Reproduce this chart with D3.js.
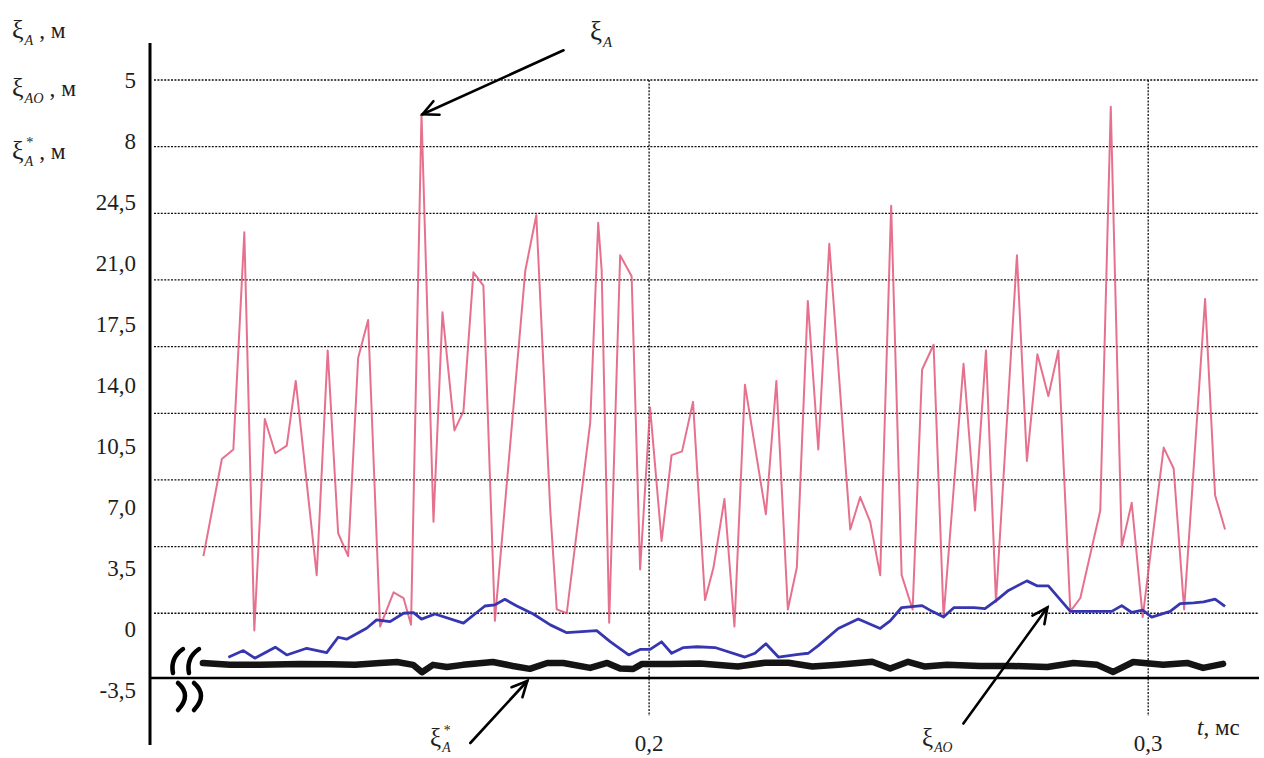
<!DOCTYPE html>
<html>
<head>
<meta charset="utf-8">
<script src="https://cdn.jsdelivr.net/npm/d3@7"></script>
<style>
  body { margin: 0; background: #fff; }
  text { font-family: "Liberation Serif", "Times New Roman", serif; fill: #1e1e1e; }
</style>
</head>
<body>
<div id="wrapper"></div>
<script>
// ξA, м  (red)
const redT = [0.1107, 0.1144, 0.1167, 0.1189, 0.1209, 0.1230, 0.1251, 0.1274, 0.1292, 0.1334,
  0.1356, 0.1377, 0.1397, 0.1417, 0.1437, 0.1461, 0.1488, 0.1508, 0.1523, 0.1544,
  0.1568, 0.1586, 0.1610, 0.1628, 0.1648, 0.1668, 0.1691, 0.1752, 0.1774, 0.1802,
  0.1815, 0.1835, 0.1882, 0.1898, 0.1905, 0.1920, 0.1942, 0.1965, 0.1982, 0.2002,
  0.2025, 0.2045, 0.2066, 0.2088, 0.2112, 0.2129, 0.2151, 0.2171, 0.2192, 0.2234,
  0.2255, 0.2278, 0.2296, 0.2318, 0.2339, 0.2361, 0.2403, 0.2423, 0.2443, 0.2463,
  0.2485, 0.2506, 0.2528, 0.2547, 0.2570, 0.2590, 0.2630, 0.2653, 0.2675, 0.2695,
  0.2737, 0.2757, 0.2778, 0.2800, 0.2820, 0.2844, 0.2864, 0.2904, 0.2925, 0.2947,
  0.2967, 0.2989, 0.3031, 0.3051, 0.3072, 0.3114, 0.3134, 0.3154];
const redV = [3.0, 8.1, 8.6, 20.0, -0.9, 10.2, 8.4, 8.8, 12.2, 2.0,
  13.8, 4.2, 3.0, 13.4, 15.4, -0.7, 1.1, 0.8, -0.6, 26.2,
  4.8, 15.8, 9.6, 10.6, 17.9, 17.2, -0.4, 18.0, 20.9, 5.4,
  0.2, 0.0, 10.0, 20.5, 18.0, -0.5, 18.8, 17.7, 2.3, 10.8,
  3.8, 8.3, 8.5, 11.1, 0.7, 2.4, 6.0, -0.7, 12.0, 5.2,
  12.2, 0.2, 2.4, 16.4, 8.6, 19.4, 4.4, 6.1, 4.8, 2.0,
  21.4, 2.0, 0.2, 12.8, 14.1, -0.2, 13.1, 5.4, 13.8, 0.6,
  18.8, 8.0, 13.6, 11.4, 13.8, 0.1, 0.8, 5.4, 26.6, 3.5,
  5.8, -0.2, 8.7, 7.6, 0.2, 16.5, 6.2, 4.4];

// ξAO, м  (blue)
const blueT = [0.1157, 0.1187, 0.1210, 0.1251, 0.1274, 0.1314, 0.1354, 0.1377, 0.1394, 0.1434,
  0.1454, 0.1481, 0.1508, 0.1528, 0.1544, 0.1571, 0.1628, 0.1671, 0.1691, 0.1711,
  0.1735, 0.1768, 0.1802, 0.1835, 0.1895, 0.1922, 0.1959, 0.1982, 0.2002, 0.2025,
  0.2045, 0.2069, 0.2096, 0.2132, 0.2192, 0.2212, 0.2234, 0.2259, 0.2299, 0.2319,
  0.2339, 0.2379, 0.2419, 0.2463, 0.2483, 0.2506, 0.2547, 0.2567, 0.2590, 0.2611,
  0.2651, 0.2673, 0.2697, 0.2720, 0.2757, 0.2777, 0.2800, 0.2844, 0.2878, 0.2927,
  0.2947, 0.2967, 0.2989, 0.3007, 0.3044, 0.3064, 0.3091, 0.3111, 0.3134, 0.3154];
const blueV = [-2.31, -1.96, -2.36, -1.78, -2.19, -1.84, -2.07, -1.26, -1.36, -0.79,
  -0.35, -0.44, 0.0, 0.03, -0.31, -0.04, -0.52, 0.38, 0.44, 0.73,
  0.38, -0.04, -0.61, -1.02, -0.91, -1.49, -2.19, -1.9, -1.9, -1.5,
  -2.1, -1.8, -1.76, -1.8, -2.3, -2.1, -1.6, -2.3, -2.16, -2.1,
  -1.7, -0.8, -0.3, -0.8, -0.4, 0.3, 0.4, 0.1, -0.2, 0.3,
  0.3, 0.24, 0.7, 1.2, 1.7, 1.44, 1.44, 0.1, 0.1, 0.1,
  0.4, 0.04, 0.16, -0.2, 0.1, 0.5, 0.54, 0.6, 0.74, 0.36];

// ξ*A, м  (black)
const starT = [0.1106, 0.1160, 0.1220, 0.1301, 0.1361, 0.1411, 0.1461, 0.1495, 0.1527, 0.1545,
  0.1567, 0.1595, 0.1627, 0.1687, 0.1727, 0.1761, 0.1796, 0.1828, 0.1882, 0.1916,
  0.1942, 0.1968, 0.1986, 0.2042, 0.2102, 0.2178, 0.2232, 0.2279, 0.2327, 0.2379,
  0.2447, 0.2483, 0.2519, 0.2553, 0.2597, 0.2663, 0.2729, 0.2798, 0.2850, 0.2898,
  0.2930, 0.2970, 0.3030, 0.3078, 0.3110, 0.3150];
const starV = [-2.61, -2.70, -2.71, -2.66, -2.68, -2.71, -2.61, -2.56, -2.71, -3.10,
  -2.71, -2.82, -2.71, -2.56, -2.77, -2.92, -2.61, -2.61, -2.87, -2.61,
  -2.90, -2.93, -2.66, -2.66, -2.64, -2.80, -2.60, -2.60, -2.80, -2.70,
  -2.55, -2.90, -2.55, -2.80, -2.71, -2.77, -2.77, -2.82, -2.61, -2.71,
  -3.08, -2.56, -2.71, -2.61, -2.87, -2.66];

const yTickLabels = ["5", "8", "24,5", "21,0", "17,5", "14,0", "10,5", "7,0", "3,5", "0", "-3,5"];
const yGridValues = [0, 3.5, 7, 10.5, 14, 17.5, 21, 24.5, 28];
const xTickValues = [0.2, 0.3];
const xTickLabels = ["0,2", "0,3"];

function drawChart() {
    const dimension = {
        width: 1264,
        height: 758,
        margin: { top: 80, left: 150, bottom: 80, right: 5 }
    };
    const x0 = dimension.margin.left;
    const x1 = dimension.width - dimension.margin.right;
    const yBottom = dimension.height - dimension.margin.bottom; // 678

    const svg = d3.select("#wrapper").append("svg")
        .attr("width", dimension.width)
        .attr("height", dimension.height);

    const xScaler = d3.scaleLinear().domain([0.1, 0.3222]).range([x0, x1]);
    const yScaler = d3.scaleLinear().domain([-3.4, 28]).range([yBottom, dimension.margin.top]);
    // labels in the source sit on their own spacing, not on the grid
    const labelScaler = d3.scalePoint().domain(yTickLabels).range([80, 690]);

    // dotted grid
    svg.append("g").selectAll("line").data(yGridValues).join("line")
        .attr("x1", x0 + 4).attr("x2", x1)
        .attr("y1", d => yScaler(d)).attr("y2", d => yScaler(d))
        .attr("stroke", "#111").attr("stroke-width", 1.3)
        .attr("stroke-dasharray", "2,1.4");
    svg.append("g").selectAll("line").data(xTickValues).join("line")
        .attr("x1", d => xScaler(d)).attr("x2", d => xScaler(d))
        .attr("y1", yScaler(28)).attr("y2", yBottom + 38)
        .attr("stroke", "#111").attr("stroke-width", 1.3)
        .attr("stroke-dasharray", "2,1.4");

    // axes
    svg.append("line")
        .attr("x1", x0).attr("x2", x0).attr("y1", 43).attr("y2", 745)
        .attr("stroke", "#000").attr("stroke-width", 3);
    svg.append("line")
        .attr("x1", x0).attr("x2", x1).attr("y1", yBottom).attr("y2", yBottom)
        .attr("stroke", "#000").attr("stroke-width", 2.6);

    // y labels
    svg.append("g").selectAll("text").data(yTickLabels).join("text")
        .attr("x", 136).attr("y", d => labelScaler(d))
        .attr("dy", "0.35em")
        .attr("text-anchor", "end")
        .attr("font-size", 23)
        .text(d => d);

    // x labels
    svg.append("g").selectAll("text").data(xTickValues).join("text")
        .attr("x", d => xScaler(d)).attr("y", 751)
        .attr("text-anchor", "middle")
        .attr("font-size", 23)
        .text((d, i) => xTickLabels[i]);
    const tl = svg.append("text").attr("x", 1197).attr("y", 735).attr("font-size", 23);
    tl.append("tspan").attr("font-style", "italic").text("t");
    tl.append("tspan").text(", мс");

    // lines
    const line = d3.line()
        .x(d => xScaler(d[0]))
        .y(d => yScaler(d[1]));

    svg.append("path")
        .attr("d", line(starT.map((t, i) => [t, starV[i]])))
        .attr("fill", "none").attr("stroke", "#141414")
        .attr("stroke-width", 6.5)
        .attr("stroke-linejoin", "round").attr("stroke-linecap", "round");

    svg.append("path")
        .attr("d", line(redT.map((t, i) => [t, redV[i]])))
        .attr("fill", "none").attr("stroke", "#e2587a")
        .attr("stroke-width", 2).attr("stroke-opacity", 0.85)
        .attr("stroke-linejoin", "round");

    svg.append("path")
        .attr("d", line(blueT.map((t, i) => [t, blueV[i]])))
        .attr("fill", "none").attr("stroke", "#3636b0")
        .attr("stroke-width", 2.8)
        .attr("stroke-linejoin", "round");

    // axis break marks
    const brk = svg.append("g").attr("fill", "none").attr("stroke", "#000")
        .attr("stroke-width", 4.5).attr("stroke-linecap", "round");
    [0, 16].forEach(dx => {
        brk.append("path").attr("d", `M${x0 + 33 + dx},${yBottom - 29} Q${x0 + 20 + dx},${yBottom - 20} ${x0 + 23 + dx},${yBottom - 5}`);
        brk.append("path").attr("d", `M${x0 + 28 + dx},${yBottom + 5} Q${x0 + 42 + dx},${yBottom + 17} ${x0 + 28 + dx},${yBottom + 32}`);
    });

    // ξ labels
    function xi(x, y, size, sub, star, suffix) {
        const t = svg.append("text").attr("x", x).attr("y", y).attr("font-size", size);
        t.append("tspan").text("ξ");
        t.append("tspan").attr("font-style", "italic")
            .attr("font-size", size * 0.55).attr("dy", size * 0.25).attr("dx", 1).text(sub);
        if (suffix) {
            t.append("tspan").attr("dy", -size * 0.25).attr("font-size", size * 0.9).text(suffix);
        }
        if (star) {
            svg.append("text").attr("x", x + size * 0.55).attr("y", y - size * 0.45)
                .attr("font-size", size * 0.55).text("*");
        }
    }
    xi(12, 38, 26, "A", false, " , м");
    xi(12, 96, 26, "AO", false, " , м");
    xi(12, 159, 26, "A", true, " , м");

    xi(590, 40, 27, "A", false);
    xi(430, 746, 25, "A", true);
    xi(922, 746, 25, "AO", false);

    // arrows
    function arrow(tx, ty, dx, dy) {
        const g = svg.append("g").attr("stroke", "#000").attr("stroke-width", 2.6)
            .attr("fill", "none").attr("stroke-linecap", "round");
        g.append("line").attr("x1", tx + dx).attr("y1", ty + dy).attr("x2", tx).attr("y2", ty);
        const a = Math.atan2(dy, dx);
        const L = 17, w = 0.45;
        g.append("path").attr("d",
            `M${tx + L * Math.cos(a + w)},${ty + L * Math.sin(a + w)} L${tx},${ty} L${tx + L * Math.cos(a - w)},${ty + L * Math.sin(a - w)}`);
    }
    arrow(xScaler(redT[19]) + 1, yScaler(redV[19]), 141, -64);
    arrow(xScaler(0.1756), yBottom + 3, -57, 62);
    arrow(xScaler(0.2798), yScaler(0.3), -84, 116);
}

drawChart();
</script>
</body>
</html>
